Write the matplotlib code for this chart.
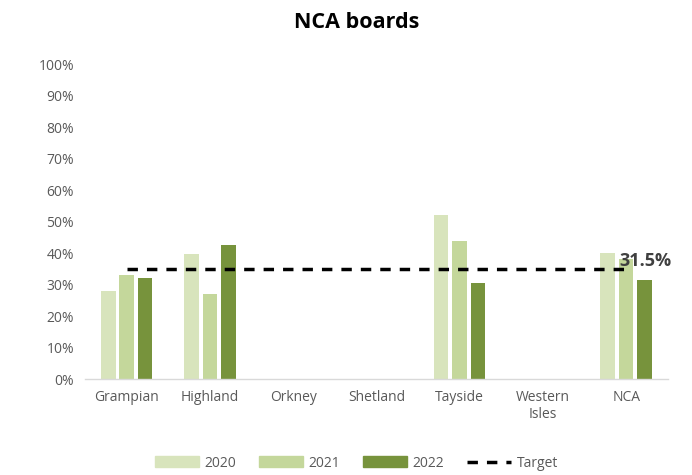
import numpy as np
import matplotlib.pyplot as plt
from matplotlib.lines import Line2D
from matplotlib.patches import Patch

plt.rcParams['font.family'] = ['Open Sans', 'DejaVu Sans']

boards = ['Grampian', 'Highland', 'Orkney', 'Shetland', 'Tayside', 'Western\nIsles', 'NCA']
years = ['2020', '2021', '2022']
v2020 = [27.9, 39.7, 0, 0, 52.1, 0, 39.9]
v2021 = [33.0, 27.0, 0, 0, 43.9, 0, 38.0]
v2022 = [32.1, 42.5, 0, 0, 30.5, 0, 31.5]
target = [35, 35, 35, 35, 35, 35, 35]
colours = ['#d8e4bc', '#c4d79b', '#77933c']

fig = plt.figure(figsize=(6.92, 4.75), dpi=100)
ax = fig.add_axes([0.123, 0.202, 0.842, 0.663])

x = np.arange(len(boards))
w = 0.175
step = 0.222
for i, vals in enumerate([v2020, v2021, v2022]):
    ax.bar(x + (i - 1) * step, vals, w, color=colours[i], label=years[i])

ax.plot(x, target, color='black', lw=2.5, ls=(0, (3, 2.6)), label='Target')

# label on the NCA 2022 bar
ax.text(x[-1] + 0.23, v2022[-1] + 3.0, '31.5%', ha='center', va='bottom',
        fontsize=13, fontweight='bold', color='#404040')

ax.set_xlim(-0.5, len(boards) - 0.5)
ax.set_ylim(0, 100)
ax.set_yticks(range(0, 101, 10))
ax.set_yticklabels([f'{t}%' for t in range(0, 101, 10)])
ax.set_xticks(x)
ax.set_xticklabels(boards)
ax.tick_params(axis='both', length=0, labelsize=10, colors='#595959')
ax.tick_params(axis='y', pad=8)
ax.tick_params(axis='x', pad=8)
for s in ['top', 'right', 'left']:
    ax.spines[s].set_visible(False)
ax.spines['bottom'].set_color('#d9d9d9')
ax.spines['bottom'].set_linewidth(1)

fig.text(0.515, 0.952, 'NCA boards', ha='center', va='center', fontsize=15.5, fontweight='bold')

handles = [Patch(color=c) for c in colours] + [Line2D([], [], color='black', lw=2.5, ls=(0, (3, 2.6)))]
fig.legend(handles, years + ['Target'], loc='center', bbox_to_anchor=(0.515, 0.025), ncol=4,
           frameon=False, fontsize=10, handlelength=3.2, handleheight=0.8, columnspacing=1.6,
           handletextpad=0.4, labelcolor='#595959')

fig.savefig('out.png', dpi=100)
